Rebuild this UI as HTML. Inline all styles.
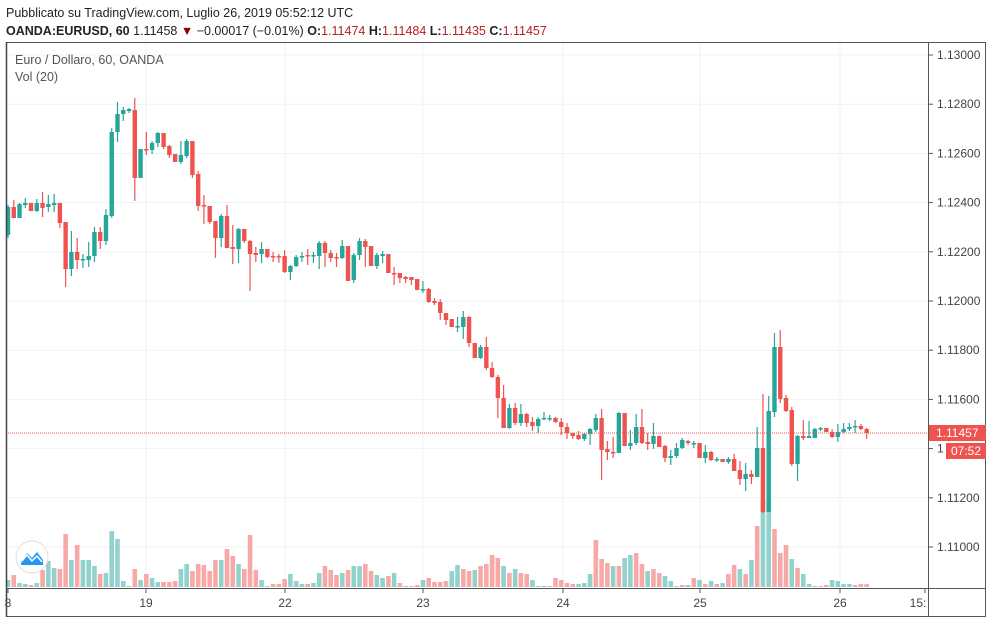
<!DOCTYPE html>
<html><head><meta charset="utf-8">
<style>
html,body{margin:0;padding:0;background:#fff;}
body{width:992px;height:622px;overflow:hidden;font-family:"Liberation Sans",sans-serif;}
svg text{font-family:"Liberation Sans",sans-serif;}
</style></head>
<body>
<svg id="s" width="992" height="622" xmlns="http://www.w3.org/2000/svg">
<text x="6" y="17" font-size="12.5" fill="#222">Pubblicato su TradingView.com, Luglio 26, 2019 05:52:12 UTC</text>
<text x="6" y="35" font-size="12.5" fill="#222"><tspan font-weight="bold">OANDA:EURUSD, 60</tspan> 1.11458 <tspan fill="#8b0000">▼</tspan> −0.00017 (−0.01%) <tspan font-weight="bold">O:</tspan><tspan fill="#b22222">1.11474</tspan> <tspan font-weight="bold">H:</tspan><tspan fill="#b22222">1.11484</tspan> <tspan font-weight="bold">L:</tspan><tspan fill="#b22222">1.11435</tspan> <tspan font-weight="bold">C:</tspan><tspan fill="#b22222">1.11457</tspan></text>
<g id="grid"></g>
<g id="vol"></g>
<g id="cand"></g>
<line x1="6" y1="433" x2="928" y2="433" stroke="#ef5350" stroke-width="1" stroke-dasharray="1,1"/>
<rect x="6.5" y="42.5" width="979" height="574" fill="none" stroke="#555" stroke-width="1"/>
<line x1="6.5" y1="42" x2="6.5" y2="617" stroke="#444" stroke-width="1.5"/>
<line x1="928.5" y1="42" x2="928.5" y2="617" stroke="#555"/>
<line x1="6" y1="588.5" x2="986" y2="588.5" stroke="#555"/>
<g id="axis"></g>
<text x="15" y="64" font-size="12.5" fill="#555">Euro / Dollaro, 60, OANDA</text>
<text x="15" y="81" font-size="12.5" fill="#555">Vol (20)</text>
<circle cx="32" cy="557" r="16" fill="#fff" stroke="#ddd" stroke-width="1"/>
<path d="M21 563 L27 553 L32 558 L37 552 L43 560 L43 565 L21 565 Z" fill="#2196f3"/>
<path d="M22 561 L27 555 L32 561 L37 556 L42 562" stroke="#fff" stroke-width="1.5" fill="none"/>
<rect x="929" y="425" width="57" height="16" fill="#ef5350"/>
<text x="936" y="437" font-size="12" fill="#fff">1.11457</text>
<rect x="946" y="443" width="40" height="16" fill="#ef5350"/>
<text x="951" y="455" font-size="12" fill="#fff">07:52</text>
</svg>
<script>
const NS="http://www.w3.org/2000/svg";
function el(p,t,a,txt){const e=document.createElementNS(NS,t);for(const k in a)e.setAttribute(k,a[k]);if(txt!=null)e.textContent=txt;document.getElementById(p).appendChild(e);return e;}
// grid
const prices=["1.13000","1.12800","1.12600","1.12400","1.12200","1.12000","1.11800","1.11600","1.11400","1.11200","1.11000"];
prices.forEach((p,i)=>{const y=55+49.2*i;
 el("grid","line",{x1:7,y1:y,x2:928,y2:y,stroke:"#eef2f7","stroke-width":1});
 el("axis","line",{x1:929,y1:y,x2:933,y2:y,stroke:"#555"});
 if(p!=="1.11400") el("axis","text",{x:937,y:y+4,"font-size":12,fill:"#444"},p); else el("axis","text",{x:937,y:y+4,"font-size":12,fill:"#444"},"1");
});
const days=[[8,"8"],[146,"19"],[285,"22"],[423,"23"],[563,"24"],[700,"25"],[840,"26"]];
days.forEach(([x,l])=>{
 if(x>10) el("grid","line",{x1:x,y1:43,x2:x,y2:588,stroke:"#eef2f7"});
 el("axis","line",{x1:x,y1:589,x2:x,y2:593,stroke:"#555"});
 el("axis","text",{x:x,y:607,"font-size":12,fill:"#444","text-anchor":"middle"},l);
});
el("axis","line",{x1:925,y1:589,x2:925,y2:593,stroke:"#555"});
el("axis","text",{x:918,y:607,"font-size":12,fill:"#444","text-anchor":"middle"},"15:");
// candles o,c,h,l
const C=[[235,207,205,238],[207,218,200,218],[218,204,203,218],[205,203,198,208],[203,211,203,211],[211,203,199,212],[203,208,192,217],[207,204,195,212],[205,203,194,212],[203,223,203,228],
[222,269,222,287],[269,252,231,276],[252,260,238,269],[260,259,254,268],[260,256,242,267],[256,232,227,262],[232,241,227,249],[241,215,209,245],[216,132,128,218],[132,114,102,142],
[114,110,107,121],[111,109,108,113],[110,178,98,201],[178,149,149,178],[149,150,132,155],[150,143,141,154],[143,133,132,147],[133,147,133,149],[146,155,145,158],[154,162,154,162],
[162,155,141,164],[156,141,139,158],[141,175,141,178],[174,206,171,211],[205,206,195,224],[206,222,206,224],[221,238,221,258],[238,216,214,247],[216,248,205,248],[247,249,225,264],
[249,229,228,263],[229,241,229,243],[241,254,240,291],[253,255,247,262],[254,249,242,263],[249,257,249,258],[256,257,252,262],[256,257,254,263],[256,272,250,273],[272,266,265,280],
[266,257,255,267],[257,256,252,262],[255,256,249,265],[256,255,252,263],[256,243,241,269],[243,253,241,267],[253,258,250,262],[257,258,253,267],[258,246,240,259],[246,281,246,281],
[280,255,253,283],[255,241,238,260],[241,247,239,267],[246,266,246,266],[266,255,253,269],[256,254,251,263],[254,273,254,273],[273,274,267,285],[273,278,273,283],[277,279,276,283],
[277,280,277,285],[279,290,279,290],[290,289,281,293],[289,302,288,303],[301,303,298,305],[302,313,299,320],[313,320,313,325],[319,327,319,327],[327,326,317,332],[327,317,311,339],
[317,343,316,347],[343,358,343,358],[358,347,345,359],[347,368,337,370],[368,377,362,378],[377,398,375,418],[398,428,385,428],[428,408,404,429],[408,423,403,425],[423,414,404,426],
[414,423,413,427],[422,426,417,431],[426,419,417,433],[419,418,412,420],[419,418,415,421],[418,422,417,423],[422,427,418,435],[427,433,423,439],[433,436,433,439],[435,439,431,440],
[439,434,433,441],[434,429,428,445],[430,418,414,432],[418,450,409,480],[449,452,441,460],[452,453,437,458],[453,413,412,453],[413,446,413,446],[446,443,430,450],[443,427,414,445],
[427,443,409,444],[442,444,433,450],[444,436,423,449],[436,447,436,447],[446,458,445,462],[458,456,450,465],[456,448,443,458],[448,440,438,449],[441,443,440,445],[444,443,441,448],
[443,458,443,458],[458,452,445,463],[452,460,451,461],[460,459,457,462],[459,462,459,462],[462,459,457,464],[459,471,454,471],[470,479,461,485],[479,474,463,491],[474,477,470,484],
[477,448,427,477],[448,512,394,513],[512,411,396,512],[412,347,333,417],[347,399,330,403],[398,411,395,412],[410,464,407,466],[464,436,435,481],[436,438,420,440],[438,436,421,438],
[438,429,428,438],[429,428,427,431],[428,432,428,432],[432,437,429,438],[437,432,424,442],[432,429,423,433],[429,427,423,431],[427,426,420,433],[426,429,424,430],[429,433,428,439]];
const x0=8,dx=5.763;
const G="#26a69a",R="#ef5350";
C.forEach((c,i)=>{const x=x0+i*dx;const up=c[1]<=c[0]&&!(c[1]==c[0]);const col=(c[1]<c[0])?G:R;
 el("cand","line",{x1:x,y1:c[2],x2:x,y2:c[3],stroke:col,"stroke-width":1.2});
 const t=Math.min(c[0],c[1]),b=Math.max(c[0],c[1]);
 el("cand","rect",{x:x-2.2,y:t,width:4.4,height:Math.max(b-t,1.5),fill:col});
});
// volumes: [height, color g/r]
const V="7g 12r 4g 3g 2r 4g 17r 26g 19g 18r 53r 27g 42r 27g 27g 21g 13r 14g 56g 48g 6g 1g 18r 7g 13r 9g 5g 5r 5r 6r 18g 23g 16r 23r 22r 16r 27r 27g 38r 31r 23g 18r 52r 17r 7g 1g 3r 3r 8r 13g 6g 3g 3r 4g 14g 21r 17r 12r 14g 17r 21g 21g 23r 16r 12g 9g 11r 14g 4r 1g 1r 2r 7g 9r 5r 5r 6r 16g 22g 18r 16r 17g 21r 23r 32r 29r 21g 14r 18g 14r 13r 7g 1g 1g 1r 9r 7r 4r 3r 3g 4g 13g 47r 28r 24r 21g 21r 29g 32g 34r 23r 16g 18r 14r 11g 6g 1g 2r 2g 9r 7g 3r 6g 3r 4g 13r 22r 18g 13r 27g 61r 87g 85g 58r 34r 42r 28g 19r 13g 3g 1g 1r 2r 7g 6g 3g 3g 2r 3r 3r".split(" ");
V.forEach((v,i)=>{const h=parseInt(v),c=v.slice(-1)=="g"?"#92d2cc":"#f7a9a7";const x=x0+i*dx;
 el("vol","rect",{x:x-2.3,y:587-h,width:4.6,height:h,fill:c});
});
</script>
</body></html>
